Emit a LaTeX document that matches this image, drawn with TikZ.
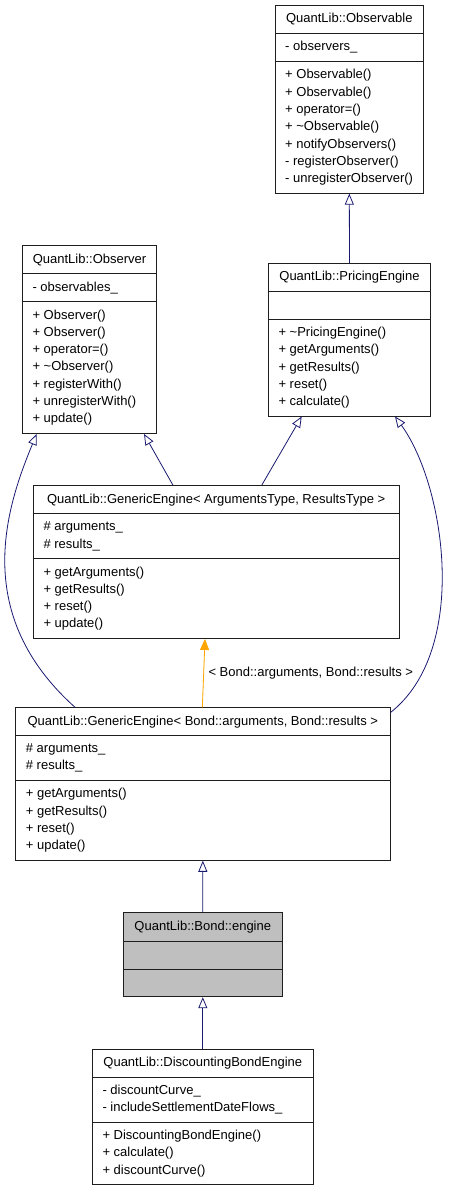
\documentclass[tikz,border=0pt]{standalone}
\usepackage{fontspec}
\setmainfont{Liberation Sans}
\definecolor{edge}{RGB}{25,25,112}
\definecolor{tmpledge}{RGB}{255,165,0}
\definecolor{boxline}{RGB}{30,30,30}
\definecolor{basefill}{RGB}{191,191,191}
\usetikzlibrary{arrows.meta,positioning,calc}
\newcommand{\dxfont}{\fontsize{13}{17.3}\selectfont}
\tikzset{
  cls/.style={draw=boxline, line width=0.9pt, fill=white, inner sep=0pt},
  basecls/.style={cls, fill=basefill},
  rule/.style={draw=boxline, line width=0.9pt},
  head/.style={font=\dxfont, inner sep=0pt},
  memb/.style={font=\dxfont, align=left, anchor=west, inner sep=0pt},
  isa/.style={draw=edge, line width=0.8pt, -{Triangle[open, length=11pt, width=9pt]}},
  tmpl/.style={draw=tmpledge, line width=0.8pt, -{Triangle[length=11pt, width=9pt]}, fill=tmpledge},
}

\begin{document}
\begin{tikzpicture}[x=1pt, y=-1pt]
    \useasboundingbox (0,0) rectangle (448,1192);
    % class boxes
    \node[cls, minimum width=148pt, minimum height=188.2pt] (observable) at (349.3,99.1) {};
    \node[cls, minimum width=134.4pt, minimum height=187.8pt] (observer) at (89.5,339.6) {};
    \node[cls, minimum width=162.4pt, minimum height=152.7pt] (pricing) at (349.5,339.65) {};
    \node[cls, minimum width=365.7pt, minimum height=152.8pt] (genargs) at (216.15,562.1) {};
    \node[cls, minimum width=374.3pt, minimum height=152.6pt] (genbond) at (202.85,784) {};
    \node[basecls, minimum width=159pt, minimum height=84pt] (bondengine) at (202.8,954.7) {};
    \node[cls, minimum width=221pt, minimum height=135.6pt] (discounting) at (202.8,1116.8) {};
    % compartments
    \foreach \nm/\ya/\yb in {observable/33.3/61.7, observer/273.5/301.7, pricing/291.5/319.3,
                              genargs/513.7/558.7, genbond/735.7/780.5, bondengine/941/969.3,
                              discounting/1077.3/1122.3} {
      \draw[rule] (\nm.west |- 0,\ya) -- (\nm.east |- 0,\ya);
      \draw[rule] (\nm.west |- 0,\yb) -- (\nm.east |- 0,\yb);
    }
    % QuantLib::Observable
    \node[head] (observable-title) at (349.3,19.15) {QuantLib::Observable};
    \node[memb] (observable-attr) at (285,47.5) {- observers\_};
    \node[memb] (observable-ops) at (285,127.45)
      {+ Observable()\\+ Observable()\\+ operator=()\\+ \textasciitilde Observable()\\
       + notifyObservers()\\- registerObserver()\\- unregisterObserver()};
    % QuantLib::Observer
    \node[head] (observer-title) at (89.5,259.6) {QuantLib::Observer};
    \node[memb] (observer-attr) at (32.3,287.6) {- observables\_};
    \node[memb] (observer-ops) at (32.3,367.6)
      {+ Observer()\\+ Observer()\\+ operator=()\\+ \textasciitilde Observer()\\
       + registerWith()\\+ unregisterWith()\\+ update()};
    % QuantLib::PricingEngine
    \node[head] (pricing-title) at (349.5,277.4) {QuantLib::PricingEngine};
    \node[memb] (pricing-ops) at (278.3,367.65)
      {+ \textasciitilde PricingEngine()\\+ getArguments()\\+ getResults()\\+ reset()\\+ calculate()};
    % QuantLib::GenericEngine< ArgumentsType, ResultsType >
    \node[head] (genargs-title) at (216.15,499.7) {QuantLib::GenericEngine< ArgumentsType, ResultsType >};
    \node[memb] (genargs-attr) at (43.3,536.2) {\# arguments\_\\\# results\_};
    \node[memb] (genargs-ops) at (43.3,598.6)
      {+ getArguments()\\+ getResults()\\+ reset()\\+ update()};
    % QuantLib::GenericEngine< Bond::arguments, Bond::results >
    \node[head] (genbond-title) at (202.85,721.7) {QuantLib::GenericEngine< Bond::arguments, Bond::results >};
    \node[memb] (genbond-attr) at (25.7,758.1) {\# arguments\_\\\# results\_};
    \node[memb] (genbond-ops) at (25.7,820.4)
      {+ getArguments()\\+ getResults()\\+ reset()\\+ update()};
    % QuantLib::Bond::engine
    \node[head] (bondengine-title) at (202.8,926.85) {QuantLib::Bond::engine};
    % QuantLib::DiscountingBondEngine
    \node[head] (discounting-title) at (202.8,1063.15) {QuantLib::DiscountingBondEngine};
    \node[memb] (discounting-attr) at (102.3,1099.8) {- discountCurve\_\\- includeSettlementDateFlows\_};
    \node[memb] (discounting-ops) at (102.3,1153.45)
      {+ DiscountingBondEngine()\\+ calculate()\\+ discountCurve()};
    % inheritance
    \draw[isa] (pricing.north) -- (observable.south);
    \draw[isa] ([xshift=-43.15pt]genargs.north) -- ([xshift=54.5pt]observer.south);
    \draw[isa] ([xshift=45.55pt]genargs.north) -- ([xshift=-47.8pt]pricing.south);
    \draw[isa] ([xshift=-127.85pt]genbond.north) .. controls (-28,615) and (5,510) .. ([xshift=-52.8pt]observer.south);
    \draw[isa] ([yshift=-5.3pt]genbond.north east) .. controls (470,650) and (445,485) .. ([xshift=45.5pt]pricing.south);
    \draw[tmpl] ([xshift=-0.5pt]genbond.north) -- ([xshift=-11.15pt]genargs.south);
    \node[head, anchor=west] (bond-params) at (208.3,672.7) {< Bond::arguments, Bond::results >};
    \draw[isa] (bondengine.north) -- (genbond.south);
    \draw[isa] (discounting.north) -- (bondengine.south);
\end{tikzpicture}
\end{document}
